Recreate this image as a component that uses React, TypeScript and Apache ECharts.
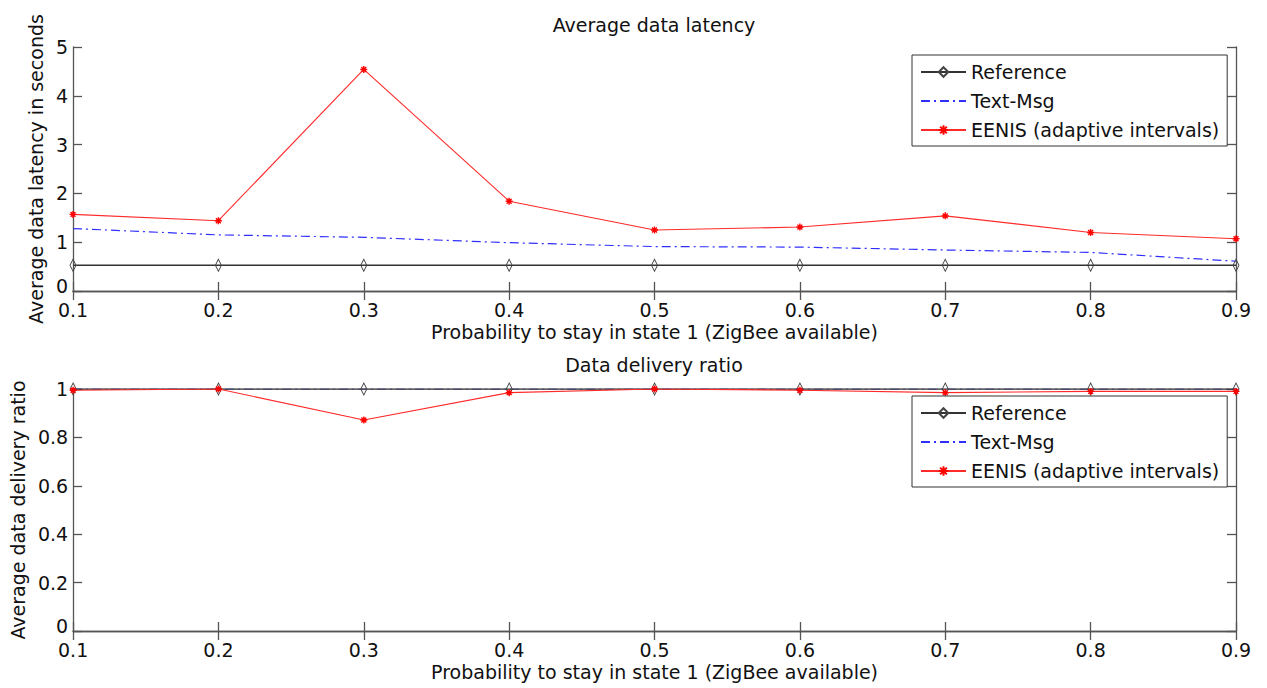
import React, { useEffect, useRef } from "react";
import * as echarts from "echarts";

const categories = ["0.1", "0.2", "0.3", "0.4", "0.5", "0.6", "0.7", "0.8", "0.9"];

const latencyReference = [0.53, 0.53, 0.53, 0.53, 0.53, 0.53, 0.53, 0.53, 0.53];
const latencyTextMsg = [1.28, 1.15, 1.1, 0.99, 0.91, 0.9, 0.84, 0.79, 0.61];
const latencyEenis = [1.57, 1.44, 4.54, 1.84, 1.25, 1.31, 1.54, 1.2, 1.07];

const deliveryReference = [1, 1, 1, 1, 1, 1, 1, 1, 1];
const deliveryTextMsg = [1, 1, 1, 1, 1, 1, 1, 1, 1];
const deliveryEenis = [0.995, 1.0, 0.872, 0.985, 1.0, 0.995, 0.985, 0.99, 0.99];

const seriesNames = ["Reference", "Text-Msg", "EENIS (adaptive intervals)"];

const FONT = "'DejaVu Sans', Verdana, sans-serif";
const FS = 19;
const AXIS_COLOR = "#555";
const TEXT_COLOR = "#111";

const DIAMOND = "path://M0,-10L4,0L0,10L-4,0Z";
const ASTERISK = "path://M0,-10L0,10M-10,0L10,0M-7,-7L7,7M-7,7L7,-7";

function xAxes(gridIndex: number) {
  const common = {
    gridIndex,
    type: "category" as const,
    data: categories,
    boundaryGap: false,
    axisLine: { show: true, lineStyle: { color: AXIS_COLOR, width: 1.3 } },
    axisTick: { show: true, inside: true, length: 9, alignWithLabel: true, lineStyle: { color: AXIS_COLOR, width: 1.3 } },
    splitLine: { show: false },
  };
  return [
    {
      ...common,
      position: "bottom",
      axisLabel: { fontSize: FS, color: TEXT_COLOR, fontFamily: FONT, margin: 9 },
      name: "Probability to stay in state 1 (ZigBee available)",
      nameLocation: "middle",
      nameGap: 31,
      nameTextStyle: { fontSize: FS, color: TEXT_COLOR, fontFamily: FONT },
    },
    {
      ...common,
      position: "top",
      axisLabel: { show: false },
    },
  ];
}

function yAxes(gridIndex: number, max: number, interval: number, name: string, nameGap: number) {
  const common = {
    gridIndex,
    type: "value" as const,
    min: 0,
    max,
    interval,
    axisLine: { show: true, lineStyle: { color: AXIS_COLOR, width: 1.3 } },
    axisTick: { show: true, inside: true, length: 9, lineStyle: { color: AXIS_COLOR, width: 1.3 } },
    splitLine: { show: false },
  };
  return [
    {
      ...common,
      position: "left",
      axisLabel: {
        fontSize: FS,
        color: TEXT_COLOR,
        fontFamily: FONT,
        margin: 5,
        formatter: (v: number) => (v === 0 ? "{z|0}" : String(v)),
        rich: {
          z: { fontSize: FS, color: TEXT_COLOR, fontFamily: FONT, padding: [0, 0, 10, 0] },
        },
      },
      name,
      nameLocation: "middle",
      nameGap,
      nameTextStyle: { fontSize: FS, color: TEXT_COLOR, fontFamily: FONT },
    },
    {
      ...common,
      position: "right",
      axisLabel: { show: false },
    },
  ];
}

function seriesFor(axisIndex: number, ref: number[], txt: number[], eenis: number[]) {
  return [
    {
      name: seriesNames[1],
      type: "line",
      xAxisIndex: axisIndex,
      yAxisIndex: axisIndex,
      data: txt,
      showSymbol: false,
      symbol: "none",
      z: 1,
      lineStyle: { color: "#2f2fff", width: 1.2, type: [9, 4, 2, 4] },
      itemStyle: { color: "#2f2fff" },
    },
    {
      name: seriesNames[0],
      type: "line",
      xAxisIndex: axisIndex,
      yAxisIndex: axisIndex,
      data: ref,
      symbol: DIAMOND,
      symbolSize: [6, 12],
      z: 2,
      lineStyle: { color: "#333", width: 1.5 },
      itemStyle: { color: "rgba(255,255,255,0)", borderColor: "#444", borderWidth: 1 },
    },
    {
      name: seriesNames[2],
      type: "line",
      xAxisIndex: axisIndex,
      yAxisIndex: axisIndex,
      data: eenis,
      symbol: ASTERISK,
      symbolSize: 7,
      z: 3,
      lineStyle: { color: "#ff2a2a", width: 1.1 },
      itemStyle: { color: "#ff0000", borderColor: "#ff0000", borderWidth: 1.4 },
    },
  ];
}

function legendAt(top: number) {
  return {
    data: [
      { name: seriesNames[0] },
      { name: seriesNames[1], itemStyle: { opacity: 0 } },
      { name: seriesNames[2] },
    ],
    orient: "vertical",
    left: 912,
    top,
    padding: [7, 8, 6, 8],
    itemGap: 9,
    itemWidth: 45,
    itemHeight: 12,
    borderColor: "#333",
    borderWidth: 1,
    backgroundColor: "#fff",
    selectedMode: false,
    textStyle: { fontSize: FS, color: TEXT_COLOR, fontFamily: FONT, lineHeight: 20 },
  };
}

export default function App() {
  const ref = useRef<HTMLDivElement | null>(null);

  useEffect(() => {
    if (!ref.current) return;
    const chart = echarts.init(ref.current, undefined, { renderer: "svg" });
    chart.setOption({
      animation: false,
      backgroundColor: "#fff",
      textStyle: { fontFamily: FONT },
      graphic: [
        {
          type: "text",
          x: 654,
          y: 25,
          style: {
            text: "Average data latency",
            fontSize: FS,
            fontFamily: FONT,
            fill: TEXT_COLOR,
            align: "center",
            verticalAlign: "middle",
          },
        },
        {
          type: "text",
          x: 654,
          y: 365,
          style: {
            text: "Data delivery ratio",
            fontSize: FS,
            fontFamily: FONT,
            fill: TEXT_COLOR,
            align: "center",
            verticalAlign: "middle",
          },
        },
      ],
      grid: [
        { left: 73, right: 31, top: 47, height: 244, containLabel: false },
        { left: 73, right: 31, top: 389, height: 242, containLabel: false },
      ],
      legend: [legendAt(55), legendAt(396)],
      xAxis: [...xAxes(0), ...xAxes(1)],
      yAxis: [
        ...yAxes(0, 5, 1, "Average data latency in seconds", 24),
        ...yAxes(1, 1, 0.2, "Average data delivery ratio", 42),
      ],
      series: [
        ...seriesFor(0, latencyReference, latencyTextMsg, latencyEenis),
        ...seriesFor(2, deliveryReference, deliveryTextMsg, deliveryEenis),
      ],
    });
    return () => chart.dispose();
  }, []);

  return (
    <div
      ref={ref}
      style={{ position: "fixed", left: 0, top: 0, width: 1267, height: 688, background: "#fff" }}
    />
  );
}
